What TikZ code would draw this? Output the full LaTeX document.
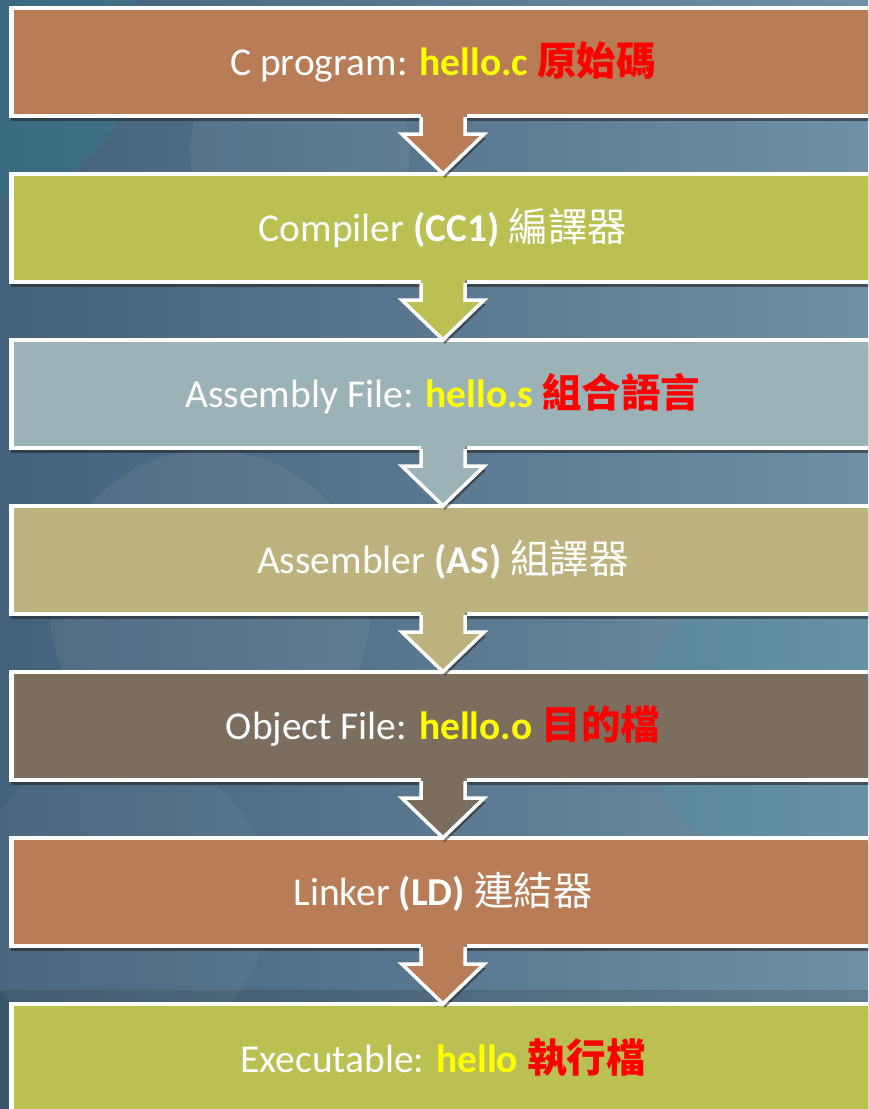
\documentclass[tikz,border=0pt]{standalone}
\usepackage{fontspec}
\setmainfont{Carlito}
\newfontfamily\cjk{Noto Sans CJK TC}
\usetikzlibrary{shadows,calc}
\definecolor{cBrown}{HTML}{B87D57}
\definecolor{cOlive}{HTML}{BAC052}
\definecolor{cBlue}{HTML}{9BB2B6}
\definecolor{cKhaki}{HTML}{BDB27E}
\definecolor{cGrey}{HTML}{7B6E5F}
\definecolor{bgL}{HTML}{43617A}
\definecolor{bgR}{HTML}{7090A5}
\definecolor{hiY}{HTML}{FFFF00}
\definecolor{hiR}{HTML}{FF0000}
\tikzset{
  stepbox/.style={draw=none, minimum width=900pt, minimum height=108pt,
    inner sep=0pt, anchor=west,
    drop shadow={shadow xshift=0pt, shadow yshift=-5pt, opacity=0.6, fill=black!85}},
  boxedge/.style={draw=white, line width=4.5pt, line join=miter},
  steptext/.style={inner sep=0pt, text=white, font=\fontsize{39.5}{44}\selectfont},
  arrfill/.style={fill=#1, drop shadow={shadow xshift=2pt, shadow yshift=-4pt, opacity=0.55, fill=black!85}},
  arrline/.style={draw=white, line width=3.5pt, line join=miter},
}
\newcommand\hl[1]{{\bfseries\color{hiY}#1}}
\newcommand\hr[1]{{\cjk\bfseries\color{hiR}#1}}
\newcommand\cw[1]{{\cjk #1}}
% white edge of a box on its top, left and bottom sides
\newcommand\boxedges[1]{%
  \draw[boxedge] (#1.north east) -- (#1.north west) -- (#1.south west) -- (#1.south east);}
% #1 upper box, #2 lower box, #3 label node giving the centre line, #4 colour
\newcommand\flowarrow[4]{%
  \coordinate (top) at (#1.south -| #3);
  \coordinate (tip) at (#2.north -| #3);
  \fill[arrfill=#4] ($(top)+(-22pt,6pt)$) -- ($(top)+(-22pt,-18pt)$)
     -- ($(top)+(-41pt,-18pt)$) -- (tip) -- ($(top)+(41pt,-18pt)$)
     -- ($(top)+(22pt,-18pt)$) -- ($(top)+(22pt,6pt)$) -- cycle;
  \draw[arrline] ($(top)+(-22pt,-1pt)$) -- ($(top)+(-22pt,-18pt)$)
     -- ($(top)+(-41pt,-18pt)$) -- (tip) -- ($(top)+(41pt,-18pt)$)
     -- ($(top)+(22pt,-18pt)$) -- ($(top)+(22pt,-1pt)$);
}
\begin{document}
\begin{tikzpicture}[x=1pt,y=1pt]
\useasboundingbox (0,0) rectangle (868,-1109);
\clip (0,0) rectangle (868,-1109);
% background
\shade[left color=bgL, right color=bgR] (-2,2) rectangle (872,-1112);
\fill[black, opacity=0.12] (-2,-1112) rectangle (872,-990);
\fill[teal!60!cyan, opacity=0.12] (-20,-40) circle (160);
\fill[white, opacity=0.05] (300,-150) circle (110);
\fill[white, opacity=0.06] (210,-610) circle (160);
\fill[teal!60!cyan, opacity=0.08] (780,-720) circle (140);
\fill[white, opacity=0.04] (120,-900) circle (150);
% boxes
\node[stepbox, fill=cBrown] (b1) at (11.25,-62)   {};
\node[stepbox, fill=cOlive] (b2) at (11.25,-228)  {};
\node[stepbox, fill=cBlue]  (b3) at (11.25,-394)  {};
\node[stepbox, fill=cKhaki] (b4) at (11.25,-560)  {};
\node[stepbox, fill=cGrey]  (b5) at (11.25,-726)  {};
\node[stepbox, fill=cBrown] (b6) at (11.25,-892)  {};
\node[stepbox, fill=cOlive] (b7) at (11.25,-1058) {};
\foreach \b in {b1,b2,b3,b4,b5,b6,b7} {\boxedges{\b}}
% labels
\node[steptext] (t1) at (443,-62)   {C program: \hl{hello.c} \hr{原始碼}};
\node[steptext] (t2) at (443,-228)  {Compiler \textbf{(CC1)} \cw{編譯器}};
\node[steptext] (t3) at (443,-394)  {Assembly File: \hl{hello.s} \hr{組合語言}};
\node[steptext] (t4) at (443,-560)  {Assembler \textbf{(AS)} \cw{組譯器}};
\node[steptext] (t5) at (443,-726)  {Object File: \hl{hello.o} \hr{目的檔}};
\node[steptext] (t6) at (443,-892)  {Linker \textbf{(LD)} \cw{連結器}};
\node[steptext] (t7) at (443,-1058) {Executable: \hl{hello} \hr{執行檔}};
% arrows
\flowarrow{b1}{b2}{t1}{cBrown}
\flowarrow{b2}{b3}{t2}{cOlive}
\flowarrow{b3}{b4}{t3}{cBlue}
\flowarrow{b4}{b5}{t4}{cKhaki}
\flowarrow{b5}{b6}{t5}{cGrey}
\flowarrow{b6}{b7}{t6}{cBrown}
\end{tikzpicture}
\end{document}
